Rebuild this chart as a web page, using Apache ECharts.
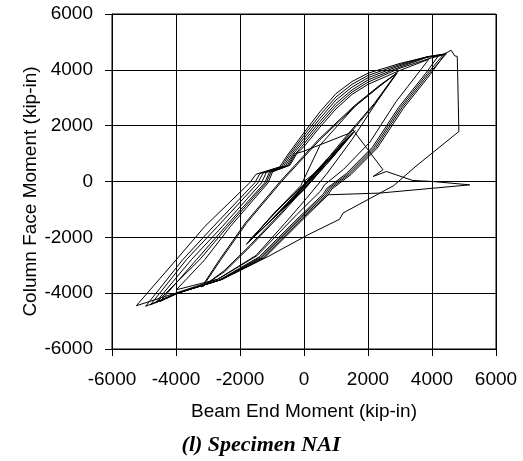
<!DOCTYPE html>
<html>
<head>
<meta charset="utf-8">
<script src="https://cdn.jsdelivr.net/npm/echarts@6/dist/echarts.min.js"></script>
<style>
html,body{margin:0;padding:0;background:#fff;}
#chart{width:523px;height:461px;}
</style>
</head>
<body>
<div id="chart"></div>
<script>
// Axis ticks
const xTicks = [-6000, -4000, -2000, 0, 2000, 4000, 6000];
const yTicks = [-6000, -4000, -2000, 0, 2000, 4000, 6000];

// Small elastic cycles
const elastic = [[0,0],[500,450],[1000,1050],[400,350],[-300,-550],[-1000,-1350],[-400,-650],[300,250],[1050,1100],[300,200],[-400,-700],[-1050,-1400],[-300,-500],[500,450],[1500,1700],[800,800],[0,-250],[-800,-1150],[-1700,-2100],[-800,-1000],[0,-100],[800,900],[1550,1780],[800,750],[0,-300],[-900,-1250],[-1750,-2200],[-900,-1100],[0,-120],[850,950],[1600,1820],[850,800],[0,-280],[-950,-1300],[-1800,-2250],[-950,-1150],[-100,-150]];

// Intermediate cycles
const cycleB = [[500,1300],[1600,2700],[2400,3450],[2890,3880],
  [2200,2800],[1300,1600],[300,200],[-700,-1100],[-1700,-2300],[-2500,-3200],[-3160,-3760],
  [-2600,-2800],[-1800,-1500],[-700,0],[500,1500],[1600,2700],[2400,3450],[2920,3900],
  [2230,2800],[1330,1580],[330,170],[-680,-1130],[-1680,-2330],[-2480,-3230],[-3200,-3780],
  [-2640,-2800],[-1830,-1480],[-730,20],[470,1520],[1580,2720],[2380,3460],[2880,3860]];

const cycleC = [[2300,2900],[1500,1500],[700,260],[80,-600],[-600,-1500],[-1500,-2650],[-2700,-3500],[-3990,-3880],
  [-3100,-2800],[-2300,-1610],[-1125,-50],[-980,350],[-440,580],[-220,1010],[0,1250],[500,1950],[1000,2600],[1500,3120],[2000,3480],[3000,3980],[3900,4380],
  [3680,4050],[2870,2850],[2060,1410],[1240,440],[640,-120],[520,-340],[-230,-1190],[-1460,-2650],[-2690,-3500],[-4020,-4000],[-5240,-4450]];

// Large cycles
const cycleA1 = [[-3990,-2800],[-3100,-1610],[-1700,-50],[-1500,260],[-760,520],[-520,940],[0,1750],[500,2500],[1000,3150],[1500,3580],[2000,3880],[3000,4230],[3800,4450],[4200,4500],
  [3800,3870],[2960,2660],[2140,1230],[1320,280],[720,-240],[600,-450],[-150,-1270],[-1400,-2700],[-2650,-3530],[-4000,-4020],[-4950,-4470]];
const cycleA2 = [[-3790,-2800],[-2830,-1610],[-1540,-50],[-1380,280],[-700,540],[-460,960],[0,1650],[500,2380],[1000,3030],[1500,3480],[2000,3800],[3000,4190],[3850,4470],[4350,4540],
  [3850,3860],[3010,2650],[2190,1220],[1370,270],[770,-250],[650,-460],[-110,-1280],[-1360,-2710],[-2620,-3530],[-3980,-4010],[-4800,-4420]];
const cycleA3 = [[-3675,-2800],[-2700,-1610],[-1440,-50],[-1280,300],[-640,550],[-400,970],[0,1550],[500,2260],[1000,2920],[1500,3380],[2000,3720],[3000,4150],[3900,4480],[4450,4580],
  [3900,3850],[3060,2640],[2240,1210],[1420,260],[820,-260],[700,-470],[-70,-1290],[-1320,-2720],[-2600,-3520],[-3950,-4000],[-4650,-4350]];
const cycleA4 = [[-3520,-2800],[-2550,-1610],[-1330,-50],[-1180,320],[-580,560],[-340,980],[0,1450],[500,2150],[1000,2800],[1500,3280],[2000,3640],[3000,4100],[3850,4450],[4400,4560],
  [3950,3840],[3110,2630],[2290,1200],[1470,250],[870,-270],[750,-480],[-30,-1300],[-1280,-2730],[-2570,-3510],[-3920,-3990],[-4500,-4300]];
const cycleA5 = [[-3360,-2800],[-2450,-1610],[-1230,-50],[-1080,330],[-520,570],[-300,990],
  [-30,1075],[1375,1710],[1530,1850],[2470,420],[2160,180],[2575,358],[3400,36],[4030,0],[5180,-120],[2365,-415],[750,-476],[800,-490],
  [10,-1310],[-1240,-2740],[-2540,-3500],[-3900,-3980],[-4600,-4320]];
const cycleA6 = [[-3260,-2800],[-2380,-1610],[-1180,-50],[-1030,340],[-480,575],[-260,1000],[0,1350],[500,2050],[1000,2700],[1500,3200],[2000,3560],[3000,4060],[3900,4400],[4300,4520],[4600,4700]];
const finalBranch = [[4710,4500],[4790,4480],[4840,1790],[3500,550],[2800,-150],[1220,-1130],[1115,-1350],[125,-1910],[-1125,-2690],[-2200,-3300]];

const path = [].concat(elastic, cycleB, cycleC, cycleA1, cycleA2, cycleA3, cycleA4, cycleA5, cycleA6, finalBranch);

const chart = echarts.init(document.getElementById('chart'), null, {renderer: 'canvas'});
const fontSans = "'Liberation Sans', Arial, sans-serif";
const axisCommon = {
  type: 'value', min: -6000, max: 6000, interval: 2000,
  axisLine: {show: true, onZero: false, lineStyle: {color: '#000', width: 1}},
  axisTick: {show: true, inside: false, length: 7, lineStyle: {color: '#000'}},
  splitLine: {show: true, lineStyle: {color: '#000', width: 1}},
  nameLocation: 'middle',
  nameMoveOverlap: false,
  nameTextStyle: {fontFamily: fontSans, fontSize: 19, color: '#000'}
};
chart.setOption({
  animation: false,
  backgroundColor: '#fff',
  grid: {left: 112, top: 14, width: 384, height: 335, show: true, borderColor: '#000', borderWidth: 1},
  xAxis: Object.assign({}, axisCommon, {
    name: 'Beam End Moment (kip-in)', nameGap: 53,
    axisLabel: {margin: 21, fontFamily: fontSans, fontSize: 19, color: '#000',
      formatter: v => xTicks.indexOf(v) >= 0 ? String(v) : ''}
  }),
  yAxis: Object.assign({}, axisCommon, {
    name: 'Column Face Moment (kip-in)', nameGap: 72,
    nameTextStyle: {fontFamily: fontSans, fontSize: 19, color: '#000', padding: [0, 20, 0, 0]},
    axisLabel: {margin: 19, fontFamily: fontSans, fontSize: 19, color: '#000',
      formatter: v => yTicks.indexOf(v) >= 0 ? String(v) : ''}
  }),
  graphic: [{
    type: 'text', x: 261, y: 445,
    style: {text: '(l) Specimen NAI', font: "italic bold 22px 'Liberation Serif', 'Times New Roman', serif", fill: '#000', textAlign: 'center', textVerticalAlign: 'middle'}
  }],
  series: [{
    type: 'line', data: path, showSymbol: false, symbol: 'none',
    lineStyle: {color: '#000', width: 1}, clip: true
  }]
});
</script>
</body>
</html>
